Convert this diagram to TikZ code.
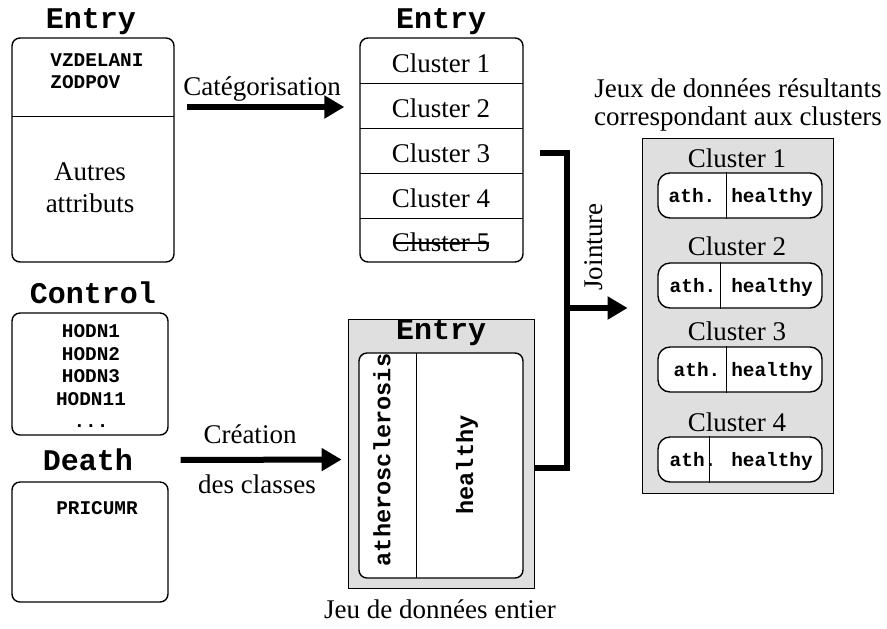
\documentclass[tikz,border=0pt]{standalone}
\usepackage{fontspec}
\setmainfont{Liberation Serif}
\setmonofont{Liberation Mono}
\usetikzlibrary{arrows.meta,positioning}
\tikzset{
  tbl/.style={draw, rounded corners=4pt, line width=0.7pt, inner sep=0pt},
  pill/.style={draw, fill=white, rounded corners=6pt, line width=0.7pt, inner sep=0pt,
    minimum width=82pt, minimum height=22.5pt},
  greybox/.style={draw, fill=gray!25, line width=0.4pt, inner sep=0pt},
  title/.style={font=\fontsize{15}{17}\selectfont\ttfamily\bfseries, anchor=base, inner sep=0pt},
  attr/.style={font=\fontsize{9.7}{11}\selectfont\ttfamily\bfseries, anchor=base, inner sep=0pt},
  vattr/.style={font=\fontsize{11.8}{13}\selectfont\ttfamily\bfseries, inner sep=0pt, rotate=90},
  txt/.style={font=\fontsize{13.5}{16}\selectfont, anchor=base, inner sep=0pt},
  bigarrow/.style={line width=3pt, -{Triangle[length=10pt,width=11pt]}},
}
\begin{document}
\begin{tikzpicture}[x=0.5pt, y=-0.5pt]
  \useasboundingbox (0,0) rectangle (887,628);

  % entry table, before categorisation
  \node[title] (t1) at (91,28) {Entry};
  \node[tbl, minimum width=81pt, minimum height=112pt] (e1) at (93,150) {};
  \draw[line width=0.4pt] (12,116) -- (174,116);
  \node[attr, anchor=base west] (vz) at (50,66) {VZDELANI};
  \node[attr, anchor=base west] (zo) at (50,88) {ZODPOV};
  \node[txt] (autres1) at (90,180) {Autres};
  \node[txt] (autres2) at (90,212) {attributs};

  % entry table with clusters
  \node[title] (t2) at (441,28) {Entry};
  \node[tbl, minimum width=81.5pt, minimum height=112pt] (e2) at (441.5,150) {};
  \foreach \y in {83,128,173,218}
    \draw[line width=0.4pt] (360,\y) -- (523,\y);
  \foreach \i/\y in {1/72,2/117,3/162,4/207,5/251}
    \node[txt] (c\i) at (441,\y) {Cluster \i};
  \draw[line width=0.6pt] ([xshift=1pt,yshift=4pt]c5.base west) -- ([xshift=-1pt,yshift=4pt]c5.base east);

  % control and death
  \node[title] (t3) at (93,303) {Control};
  \node[tbl, minimum width=78pt, minimum height=61pt] (ctl) at (90,374) {};
  \foreach \t [count=\i] in {HODN1,HODN2,HODN3,HODN11}
    \node[attr] (h\i) at (91,315+22.5*\i) {\t};
  \node[attr] (h5) at (91,427) {.{}.{}.};
  \node[title] (t4) at (88,470) {Death};
  \node[tbl, minimum width=78pt, minimum height=60pt] (dth) at (90,542) {};
  \node[attr] (pri) at (97,514) {PRICUMR};

  % whole data set
  \node[greybox, minimum width=93pt, minimum height=134.5pt] (all) at (441,453.5) {};
  \node[title] (t5) at (441,339) {Entry};
  \node[tbl, fill=white, minimum width=82pt, minimum height=112.5pt] (cls) at (441,465.5) {};
  \draw[line width=0.4pt] (416,353) -- (416,578);
  \node[vattr] (ath) at (382,460) {atherosclerosis};
  \node[vattr] (hea) at (467,465) {healthy};
  \node[txt] (entier) at (440,618) {Jeu de données entier};

  % resulting data sets
  \node[txt] (jeux1) at (738,97) {Jeux de données résultants};
  \node[txt] (jeux2) at (738,125) {correspondant aux clusters};
  \node[greybox, minimum width=95.5pt, minimum height=177.5pt] (res) at (737.5,315.5) {};
  \foreach \i/\ly/\py/\dx/\ax in {1/167/195.5/726/692,2/255/285.5/720/693,3/340/369.5/726/697,4/431/459.5/709/693} {
    \node[txt] (l\i) at (737,\ly) {Cluster \i};
    \node[pill] (p\i) at (740,\py) {};
    \draw[line width=0.4pt] (p\i.north -| \dx,0) -- (p\i.south -| \dx,0);
    \node[attr] (a\i) at (\ax,\py+6.5) {ath.};
    \node[attr] (b\i) at (772,\py+6.5) {healthy};
  }

  % arrows
  \draw[bigarrow, shorten <=6pt, shorten >=7.5pt] ([yshift=21.5pt]e1.east) -- ([yshift=21.5pt]e2.west);
  \node[txt] (cat) at (262,95) {Catégorisation};
  \draw[bigarrow, shorten <=6pt, shorten >=3pt] ([yshift=41pt]dth.east) -- ([yshift=-3pt]all.west);
  \node[txt] (crea) at (250,443) {Création};
  \node[txt] (crea2) at (257,493) {des classes};

  \coordinate (jtop) at (540,153);
  \coordinate (jbar) at (567,308);
  \draw[line width=3pt, line join=miter] (jtop) -| (jbar) |- ([yshift=-7pt]all.east);
  \draw[bigarrow] (jbar) -- ([xshift=-7pt]res.west |- jbar);
  \node[txt, rotate=90, anchor=center] (joint) at (594,247) {Jointure};
\end{tikzpicture}
\end{document}
